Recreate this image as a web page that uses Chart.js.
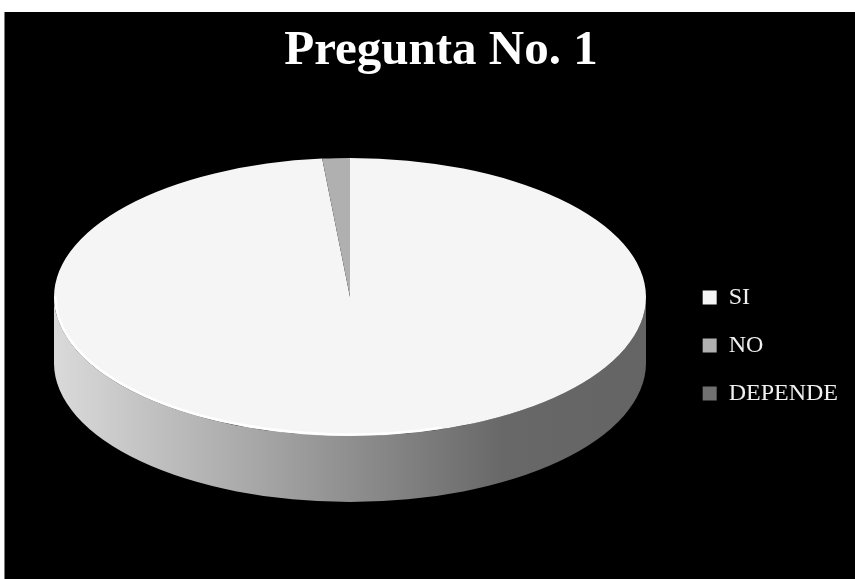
<!DOCTYPE html>
<html lang="es">
<head>
  <meta charset="UTF-8">
  <title>Pregunta No. 1</title>
  <script src="https://cdn.jsdelivr.net/npm/chart.js"></script>
  <style>
    html, body { margin: 0; padding: 0; background: #ffffff; }
    .chartBox {
      position: absolute;
      left: 4px;
      top: 12px;
      width: 850px;
      height: 567px;
      background: #000000;
      border-left: 1px solid #7a7a7a;
    }
  </style>
</head>
<body>
  <div class="chartBox">
    <canvas id="myChart"></canvas>
  </div>

  <script>
    // data
    const chartTitle = 'Pregunta No. 1';
    const categories = ['SI', 'NO', 'DEPENDE'];
    const values = [98.5, 1.5, 0];
    const sliceColors = ['#f5f5f5', '#b0b0b0', '#707070'];

    // how the flat pie is laid over as a 3d disc (canvas px)
    const disc = { cx: 345, cy: 285, rx: 296, ry: 139, depth: 66 };

    const pie3d = {
      id: 'pie3d',
      beforeDatasetsDraw(chart) {
        const ctx = chart.ctx;
        const meta = chart.getDatasetMeta(0);
        const first = meta.data[0];
        if (!first) return;

        // front wall of the disc, only where it faces us
        const grad = ctx.createLinearGradient(disc.cx - disc.rx, 0, disc.cx + disc.rx, 0);
        grad.addColorStop(0, '#dadada');
        grad.addColorStop(0.76, '#686868');
        grad.addColorStop(1, '#646464');
        meta.data.forEach(function (arc) {
          const a = Math.max(arc.startAngle, 0);
          const b = Math.min(arc.endAngle, Math.PI);
          if (b <= a) return;
          ctx.save();
          ctx.beginPath();
          ctx.ellipse(disc.cx, disc.cy, disc.rx, disc.ry, 0, a, b, false);
          ctx.ellipse(disc.cx, disc.cy + disc.depth, disc.rx, disc.ry, 0, b, a, true);
          ctx.closePath();
          ctx.fillStyle = grad;
          ctx.fill();
          ctx.restore();
        });

        // squash the round pie into the top face
        const R = first.outerRadius;
        ctx.save();
        ctx.translate(disc.cx, disc.cy);
        ctx.scale(disc.rx / R, disc.ry / R);
        ctx.translate(-first.x, -first.y);
      },
      afterDatasetsDraw(chart) {
        const ctx = chart.ctx;
        ctx.restore();
        // bright rim on the front left edge
        ctx.save();
        ctx.beginPath();
        ctx.ellipse(disc.cx, disc.cy, disc.rx - 1.5, disc.ry - 1.5, 0, Math.PI * 0.4, Math.PI * 1.0, false);
        ctx.strokeStyle = 'rgba(255,255,255,0.95)';
        ctx.lineWidth = 2.5;
        ctx.stroke();
        ctx.restore();
      }
    };

    const data = {
      labels: categories,
      datasets: [{
        data: values,
        backgroundColor: sliceColors,
        borderWidth: 0,
        clip: false
      }]
    };

    const config = {
      type: 'pie',
      data,
      options: {
        responsive: true,
        maintainAspectRatio: false,
        animation: false,
        events: [],
        // negative bottom pushes the legend column down to the disc's level
        layout: { padding: { top: 0, right: 7, bottom: -100, left: 29 } },
        plugins: {
          title: {
            display: true,
            text: chartTitle,
            color: '#ffffff',
            font: { family: 'Liberation Serif', size: 49, weight: 'bold' },
            padding: { top: 10, bottom: 60 }
          },
          legend: {
            position: 'right',
            labels: {
              color: '#f0f0f0',
              boxWidth: 14,
              boxHeight: 14,
              padding: 24,
              font: { family: 'Liberation Serif', size: 24 }
            }
          },
          tooltip: { enabled: false }
        }
      },
      plugins: [pie3d]
    };

    const myChart = new Chart(document.getElementById('myChart'), config);
  </script>
</body>
</html>
